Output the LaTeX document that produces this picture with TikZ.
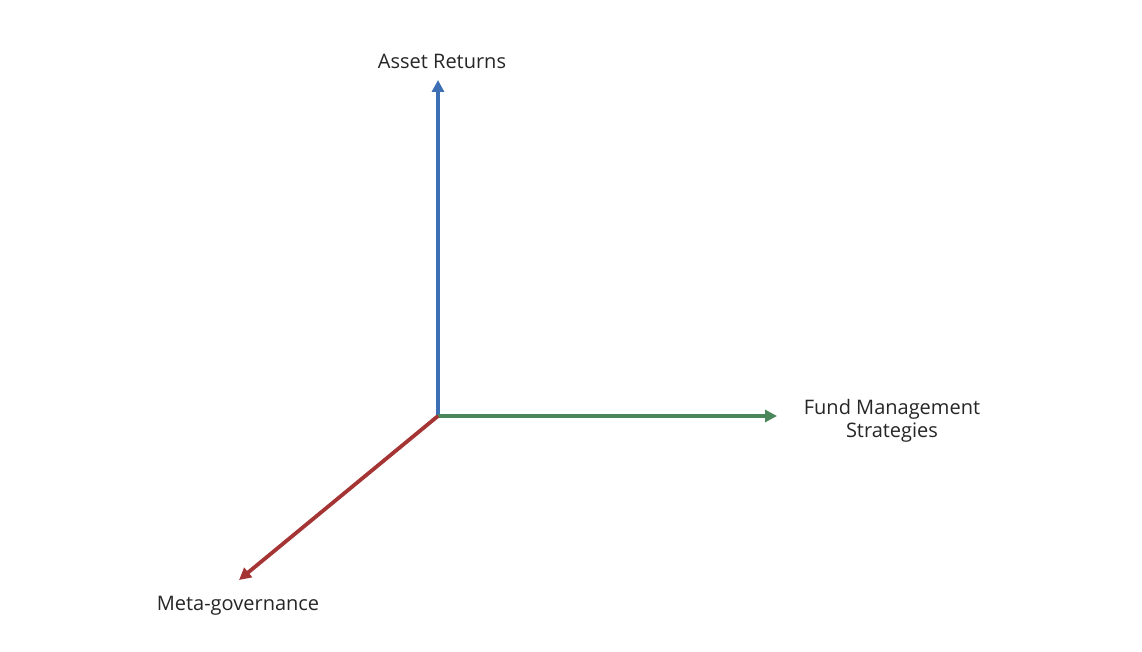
\documentclass[tikz,border=0pt]{standalone}
\usepackage{fontspec}
\setmainfont{Open Sans}
\usepackage{tikz}
\usetikzlibrary{arrows.meta, positioning}
\definecolor{axisblue}{HTML}{3C6FB4}
\definecolor{axisgreen}{HTML}{4B875A}
\definecolor{axisred}{HTML}{A53434}
\definecolor{labeltext}{HTML}{262626}

\begin{document}
\begin{tikzpicture}[
    x=0.5pt, y=-0.5pt,
    lbl/.style={font=\fontsize{10}{11.5}\selectfont, text=labeltext, align=center, inner sep=0pt},
    arr/.style={-{Triangle[length=6pt, width=6pt]}, line width=1.9pt}
]
\useasboundingbox (0,0) rectangle (1142,652);
\coordinate (origin) at (438,416);
\coordinate (returnsTip) at (438,80);
\coordinate (fundTip) at (777,416);
\coordinate (metaTip) at (239,580);

\node[lbl] (returns) at (442,61) {Asset Returns};
\node[lbl] (fund) at (892,421) {Fund Management\\Strategies};
\node[lbl] (meta) at (238,606) {Meta-governance};

\draw[arr, axisblue] (origin) -- (returnsTip);
\draw[arr, axisgreen] (origin) -- (fundTip);
\draw[arr, axisred] (origin) -- (metaTip);
\end{tikzpicture}
\end{document}
